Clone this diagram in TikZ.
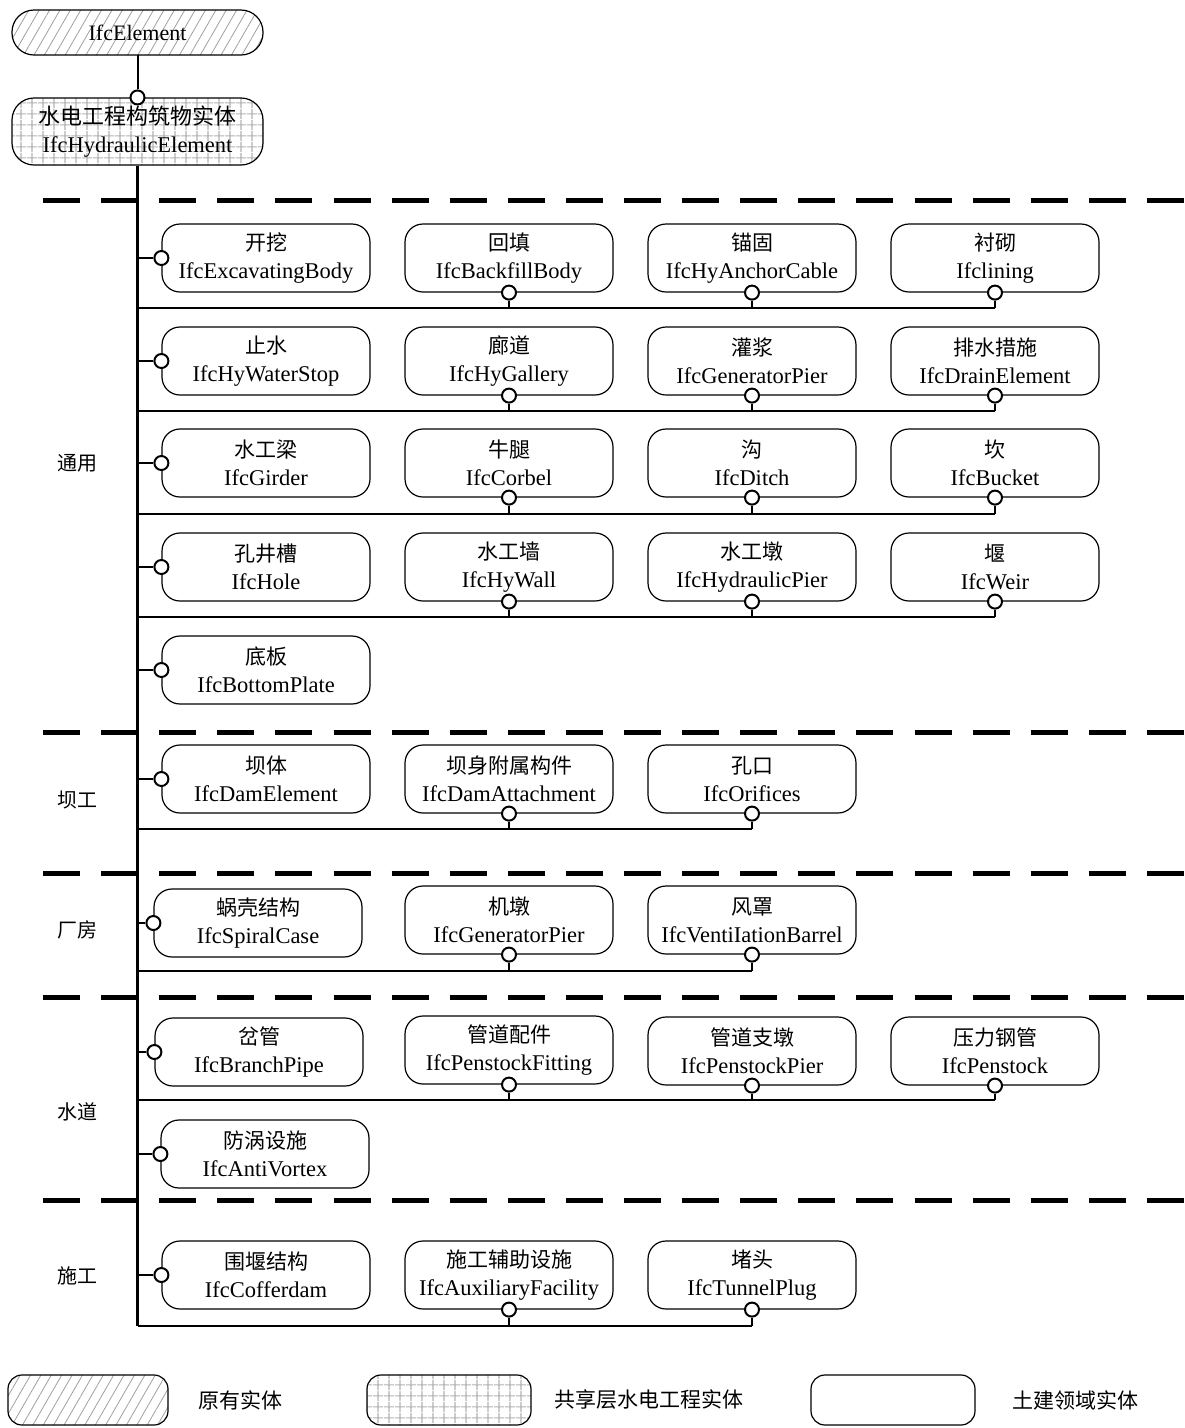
\documentclass[tikz,border=0pt]{standalone}
\usepackage{fontspec}
\setmainfont{Liberation Serif}
\newfontfamily\cjk{Noto Sans CJK SC}
\usetikzlibrary{patterns.meta}
\tikzset{
  ebox/.style={draw, line width=1.2pt, rounded corners=18pt, minimum width=208pt, minimum height=68pt,
    align=center, inner sep=0pt, font=\fontsize{22.5}{28}\selectfont},
  hatchfill/.style={pattern={Lines[angle=60,distance=9pt,line width=0.8pt]}, pattern color=gray!75},
  gridfill/.style={pattern={Hatch[angle=0,distance=10.5pt,line width=1.1pt]}, pattern color=gray!60},
  lolli/.style={circle, draw, line width=2pt, minimum size=14pt, inner sep=0pt, fill=white},
  trunk/.style={line width=3pt},
  rowline/.style={line width=2.7pt},
  sep/.style={line width=5pt, dash pattern=on 37pt off 21.1pt},
  seclabel/.style={font=\cjk\fontsize{20}{24}\selectfont},
  legtext/.style={font=\cjk\fontsize{21}{24}\selectfont, anchor=center}
}
\newcommand\ent[4]{\node[ebox] (#1) at (#2) {{\cjk\fontsize{21}{28}\selectfont #3}\\#4};}
\begin{document}
\begin{tikzpicture}[x=1pt,y=-1pt]
\useasboundingbox (0,0) rectangle (1185,1428);
% top
\node[draw, line width=1.2pt, rounded corners=22pt, minimum width=251pt, minimum height=45pt, inner sep=0pt,
  hatchfill, font=\fontsize{22}{26}\selectfont] (elem) at (137.5,32.5) {IfcElement};
\node[draw, line width=1.2pt, rounded corners=22pt, minimum width=251pt, minimum height=67pt, inner sep=0pt,
  gridfill, align=center, font=\fontsize{22.5}{28}\selectfont] (hyd) at (137.5,131.5)
  {{\cjk\fontsize{22}{28}\selectfont 水电工程构筑物实体}\\IfcHydraulicElement};
\node[lolli] (hydc) at (hyd.north) {};
\draw[line width=2pt] (elem.south) -- (hydc.north);
\coordinate (tb) at (137.5,1326);
\draw[trunk] (hyd.south) -- (tb);

% separators
\foreach \yy in {200,732,873,997,1200} \draw[sep] (43,\yy) -- (1185,\yy);

% section labels
\node[seclabel] (s1) at (77,463) {通用};
\node[seclabel] (s2) at (77,800) {坝工};
\node[seclabel] (s3) at (77,930) {厂房};
\node[seclabel] (s4) at (77,1112) {水道};
\node[seclabel] (s5) at (77,1276) {施工};

% general rows
\ent{b11}{266,258}{开挖}{IfcExcavatingBody}
\ent{b12}{509,258}{回填}{IfcBackfillBody}
\ent{b13}{752,258}{锚固}{IfcHyAnchorCable}
\ent{b14}{995,258}{衬砌}{Ifclining}
\ent{b21}{266,361}{止水}{IfcHyWaterStop}
\ent{b22}{509,361}{廊道}{IfcHyGallery}
\ent{b23}{752,361}{灌浆}{IfcGeneratorPier}
\ent{b24}{995,361}{排水措施}{IfcDrainElement}
\ent{b31}{266,463}{水工梁}{IfcGirder}
\ent{b32}{509,463}{牛腿}{IfcCorbel}
\ent{b33}{752,463}{沟}{IfcDitch}
\ent{b34}{995,463}{坎}{IfcBucket}
\ent{b41}{266,567}{孔井槽}{IfcHole}
\ent{b42}{509,567}{水工墙}{IfcHyWall}
\ent{b43}{752,567}{水工墩}{IfcHydraulicPier}
\ent{b44}{995,567}{堰}{IfcWeir}
\ent{b51}{266,670}{底板}{IfcBottomPlate}
% dam
\ent{d1}{266,779}{坝体}{IfcDamElement}
\ent{d2}{509,779}{坝身附属构件}{IfcDamAttachment}
\ent{d3}{752,779}{孔口}{IfcOrifices}
% powerhouse
\ent{p1}{258,923}{蜗壳结构}{IfcSpiralCase}
\ent{p2}{509,920}{机墩}{IfcGeneratorPier}
\ent{p3}{752,920}{风罩}{IfcVentiIationBarrel}
% waterway
\ent{w1}{259,1052}{岔管}{IfcBranchPipe}
\ent{w2}{509,1050}{管道配件}{IfcPenstockFitting}
\ent{w3}{752,1051}{管道支墩}{IfcPenstockPier}
\ent{w4}{995,1051}{压力钢管}{IfcPenstock}
\ent{w5}{265,1154}{防涡设施}{IfcAntiVortex}
% construction
\ent{c1}{266,1275}{围堰结构}{IfcCofferdam}
\ent{c2}{509,1275}{施工辅助设施}{IfcAuxiliaryFacility}
\ent{c3}{752,1275}{堵头}{IfcTunnelPlug}

% left connectors
\foreach \b in {b11,b21,b31,b41,b51,d1,p1,w1,w5,c1}{
  \node[lolli] (\b l) at (\b.west) {};
  \draw[rowline] (tb |- \b l.west) -- (\b l.west);
}
% row buses
\newcommand\bus[3]{% #1 row coordinate name, #2 y, #3 list of boxes
  \coordinate (#1) at (137.5,#2);
  \foreach \b in {#3}{
    \node[lolli] (\b b) at (\b.south) {};
    \draw[rowline] (\b b.south) -- (\b b.south |- #1);
  }
}
\bus{r1}{308}{b12,b13,b14}
\draw[rowline] (r1) -- (r1 -| b14b.south);
\bus{r2}{411}{b22,b23,b24}
\draw[rowline] (r2) -- (r2 -| b24b.south);
\bus{r3}{514}{b32,b33,b34}
\draw[rowline] (r3) -- (r3 -| b34b.south);
\bus{r4}{617}{b42,b43,b44}
\draw[rowline] (r4) -- (r4 -| b44b.south);
\bus{r5}{829}{d2,d3}
\draw[rowline] (r5) -- (r5 -| d3b.south);
\bus{r6}{971}{p2,p3}
\draw[rowline] (r6) -- (r6 -| p3b.south);
\bus{r7}{1100}{w2,w3,w4}
\draw[rowline] (r7) -- (r7 -| w4b.south);
\bus{r8}{1326}{c2,c3}
\draw[rowline] (r8) -- (r8 -| c3b.south);

% legend
\node[draw, line width=1.2pt, rounded corners=14pt, minimum width=160pt, minimum height=50pt, hatchfill] (lg1) at (88,1400) {};
\node[legtext] (lt1) at (240,1400) {原有实体};
\node[draw, line width=1.2pt, rounded corners=14pt, minimum width=164pt, minimum height=50pt, gridfill] (lg2) at (449,1400) {};
\node[legtext] (lt2) at (649,1400) {共享层水电工程实体};
\node[draw, line width=1.2pt, rounded corners=14pt, minimum width=164pt, minimum height=50pt] (lg3) at (893,1400) {};
\node[legtext] (lt3) at (1075,1400) {土建领域实体};
\end{tikzpicture}
\end{document}
